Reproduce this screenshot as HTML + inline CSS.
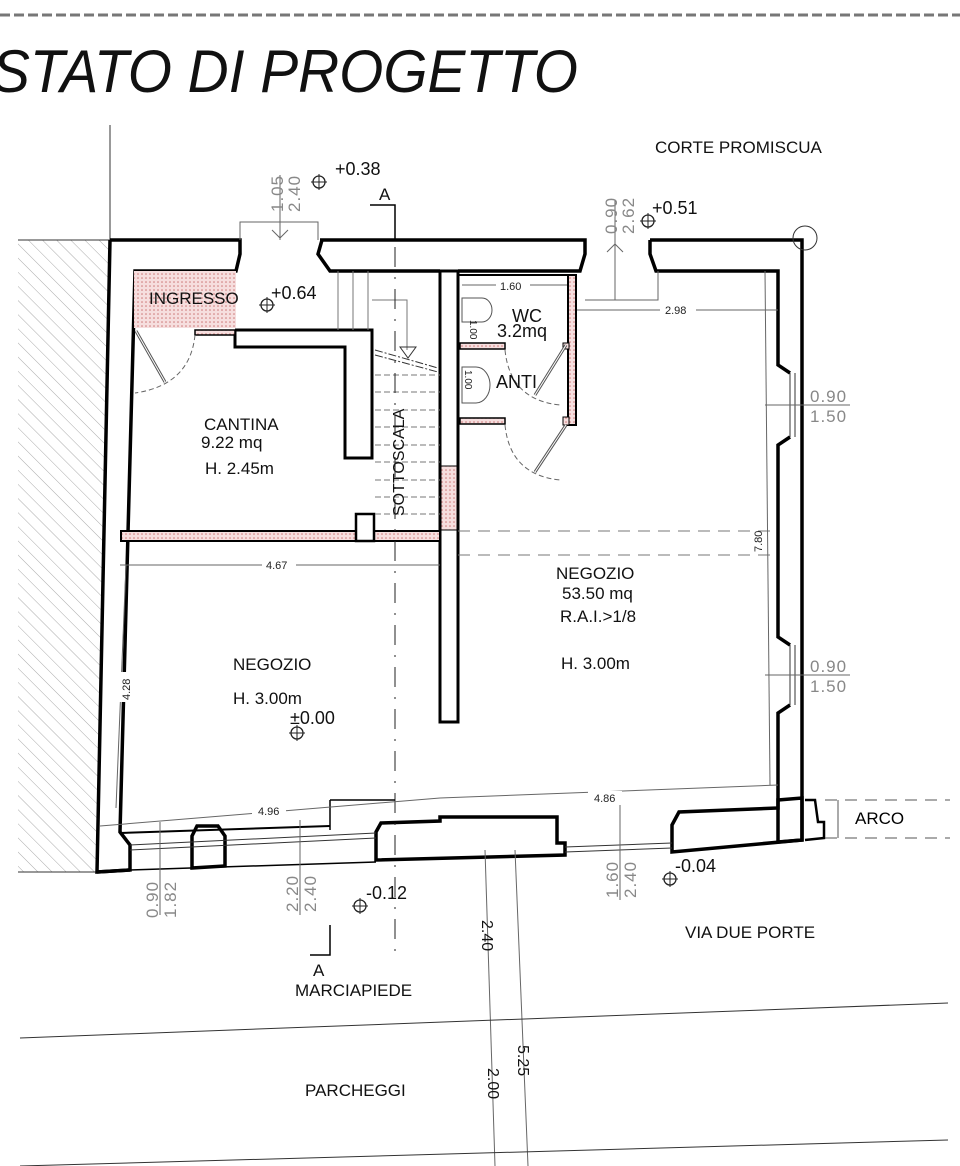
<!DOCTYPE html>
<html><head><meta charset="utf-8"><style>html,body{margin:0;padding:0;background:#fff;}svg{display:block}</style></head>
<body>
<svg width="960" height="1166" viewBox="0 0 960 1166" xmlns="http://www.w3.org/2000/svg" font-family="Liberation Sans, sans-serif">
<defs>
<pattern id="h" width="10" height="10" patternUnits="userSpaceOnUse" patternTransform="rotate(-45)"><line x1="0" y1="0" x2="0" y2="10" stroke="#aaa" stroke-width="1"/></pattern>
<pattern id="d" width="4" height="4" patternUnits="userSpaceOnUse"><rect width="4" height="4" fill="#f6dede"/><circle cx="2" cy="2" r="0.8" fill="#c77"/></pattern>
</defs>
<line x1="0" y1="15" x2="960" y2="15" stroke="#777" stroke-width="3" stroke-dasharray="10,4"/>
<text x="-8" y="92" font-size="60" font-style="italic" textLength="586" lengthAdjust="spacingAndGlyphs" fill="#111">STATO DI PROGETTO</text>

<polygon points="18,240 110,240 97,872 18,872" fill="url(#h)"/>
<line x1="18" y1="240" x2="110" y2="240" stroke="#333" stroke-width="1"/>
<line x1="110" y1="125" x2="110" y2="240" stroke="#333" stroke-width="1"/>
<line x1="18" y1="872" x2="97" y2="872" stroke="#333" stroke-width="1"/>

<g fill="none" stroke="#000" stroke-width="3.5" stroke-linejoin="miter">
<polyline points="110,240 240,240 240,254 236,271 135,271 120,832 130,845 130,870 97,872 110,240"/>
<polyline points="320,240 585,240 585,254 580,271 458,271"/>
<polyline points="322,240 318,254 330,271 440,271"/>
<polyline points="650,240 802,240 802,840 778,842"/>
<polyline points="650,240 650,254 656,271 778,271 778,365 790,373"/>
<polyline points="790,437 778,445 778,637 790,645"/>
<polyline points="790,705 778,713 778,842"/>
<polygon points="192,868 192,836 197,826 218,826 225,836 225,866"/>
<polygon points="376,860 376,832 381,823 440,821 440,817 557,817 557,843 565,843 565,855"/>
<polygon points="672,852 672,825 679,812 778,808 778,800 802,798 802,840"/>
<line x1="97" y1="872" x2="130" y2="870"/>
</g>
<g stroke="#333" stroke-width="1">
<line x1="790" y1="373" x2="790" y2="437"/><line x1="795" y1="373" x2="795" y2="437"/>
<line x1="790" y1="645" x2="790" y2="705"/><line x1="795" y1="645" x2="795" y2="705"/>
</g>
<line x1="130" y1="845" x2="376" y2="833" stroke="#333" stroke-width="1"/>
<line x1="130" y1="850" x2="376" y2="838" stroke="#333" stroke-width="1"/>
<line x1="565" y1="847" x2="672" y2="843" stroke="#333" stroke-width="1"/>
<line x1="565" y1="852" x2="672" y2="848" stroke="#333" stroke-width="1"/>
<line x1="130" y1="870" x2="376" y2="862" stroke="#000" stroke-width="1.5"/>
<line x1="120" y1="833" x2="330" y2="826" stroke="#000" stroke-width="2"/>
<polyline points="805,800 815,800 818,822 824,822 824,838 805,840" fill="none" stroke="#000" stroke-width="2.5"/>
<line x1="825" y1="800" x2="950" y2="800" stroke="#555" stroke-dasharray="12,8"/>
<line x1="825" y1="838" x2="950" y2="838" stroke="#555" stroke-dasharray="12,8"/>
<line x1="838" y1="800" x2="838" y2="838" stroke="#555"/>
<text x="855" y="824" font-size="17">ARCO</text>
<circle cx="805" cy="238" r="12" fill="none" stroke="#333"/>

<polygon points="440,271 458,271 458,722 440,722" fill="#fff" stroke="#000" stroke-width="3"/>
<rect x="441" y="466" width="16" height="64" fill="url(#d)" stroke="#000" stroke-width="1"/>
<rect x="121" y="531" width="319" height="10" fill="url(#d)" stroke="#000" stroke-width="2"/>
<rect x="356" y="514" width="18" height="27" fill="#fff" stroke="#000" stroke-width="2.5"/>
<polyline points="235,330 235,347 345,347 345,458 372,458 372,330 235,330" fill="#fff" stroke="#000" stroke-width="3"/>
<rect x="195" y="330" width="40" height="5" fill="url(#d)" stroke="#000" stroke-width="1.5"/>
<rect x="134" y="271" width="102" height="57" fill="url(#d)" stroke="none"/>
<g stroke="#777" stroke-width="1" fill="none">
<line x1="338" y1="271" x2="338" y2="330"/><line x1="353" y1="271" x2="353" y2="330"/><line x1="368" y1="271" x2="368" y2="330"/>
<polyline points="372,300 407,300 407,350"/>
<line x1="375" y1="375" x2="440" y2="375" stroke-dasharray="6,3"/><line x1="375" y1="392" x2="440" y2="392" stroke-dasharray="6,3"/>
<line x1="375" y1="410" x2="440" y2="410" stroke-dasharray="6,3"/><line x1="375" y1="427" x2="440" y2="427" stroke-dasharray="6,3"/>
<line x1="375" y1="445" x2="440" y2="445" stroke-dasharray="6,3"/><line x1="375" y1="462" x2="440" y2="462" stroke-dasharray="6,3"/>
<line x1="375" y1="480" x2="440" y2="480" stroke-dasharray="6,3"/><line x1="375" y1="497" x2="440" y2="497" stroke-dasharray="6,3"/>
<line x1="375" y1="514" x2="440" y2="514" stroke-dasharray="6,3"/>
<line x1="375" y1="350" x2="438" y2="368" stroke="#333" stroke-dasharray="8,2,2,2"/>
<line x1="375" y1="355" x2="438" y2="372" stroke="#333" stroke-dasharray="8,2,2,2"/>
</g>
<polygon points="400,347 416,347 408,358" fill="none" stroke="#333"/>
<text transform="translate(404,516) rotate(-90)" font-size="16" fill="#111">SOTTOSCALA</text>

<rect x="568" y="275" width="8" height="150" fill="url(#d)" stroke="#000" stroke-width="2"/>
<line x1="458" y1="275" x2="576" y2="275" stroke="#000" stroke-width="2"/>
<rect x="460" y="343" width="45" height="6" fill="url(#d)" stroke="#000" stroke-width="1.5"/>
<rect x="460" y="418" width="45" height="6" fill="url(#d)" stroke="#000" stroke-width="1.5"/>
<rect x="563" y="343" width="6" height="6" fill="url(#d)" stroke="#000" stroke-width="1"/>
<rect x="563" y="417" width="6" height="8" fill="url(#d)" stroke="#000" stroke-width="1"/>
<path d="M462,298 h20 a10,12 0 0 1 0,24 h-20 z" fill="none" stroke="#555"/>
<path d="M462,367 h14 a14,18 0 0 1 0,36 h-14 z" fill="none" stroke="#555"/>
<line x1="566" y1="345" x2="535" y2="395" stroke="#555" stroke-width="3"/><line x1="566" y1="345" x2="535" y2="395" stroke="#fff" stroke-width="1"/>
<line x1="566" y1="425" x2="535" y2="472" stroke="#555" stroke-width="3"/><line x1="566" y1="425" x2="535" y2="472" stroke="#fff" stroke-width="1"/>
<path d="M505,350 Q510,400 560,405" fill="none" stroke="#666" stroke-dasharray="5,3"/>
<path d="M505,425 Q510,475 560,480" fill="none" stroke="#666" stroke-dasharray="5,3"/>
<line x1="136" y1="331" x2="165" y2="382" stroke="#555" stroke-width="3"/><line x1="136" y1="331" x2="165" y2="382" stroke="#fff" stroke-width="1"/>
<path d="M195,335 Q190,385 135,393" fill="none" stroke="#666" stroke-dasharray="5,3"/>

<line x1="458" y1="531" x2="778" y2="531" stroke="#777" stroke-dasharray="12,8"/>
<line x1="458" y1="555" x2="778" y2="555" stroke="#777" stroke-dasharray="12,8"/>
<line x1="395" y1="205" x2="395" y2="955" stroke="#222" stroke-dasharray="20,10,2,10"/>
<polyline points="370,205 395,205 395,240" fill="none" stroke="#000" stroke-width="1.5"/>
<polyline points="310,955 330,955 330,925" fill="none" stroke="#000" stroke-width="1.5"/>
<line x1="330" y1="800" x2="395" y2="800" stroke="#000" stroke-width="1.5"/>
<line x1="330" y1="800" x2="330" y2="830" stroke="#000" stroke-width="1.5"/>

<g stroke="#666" stroke-width="1" fill="none">
<polyline points="240,240 240,222 318,222 318,240"/>
<line x1="280" y1="175" x2="280" y2="240"/><polyline points="272,230 280,238 288,230"/>
<line x1="615" y1="200" x2="615" y2="300"/><polyline points="607,252 615,244 623,252"/>
<polyline points="585,300 658,300 658,271"/>
<line x1="120" y1="565" x2="440" y2="565"/>
<line x1="126" y1="565" x2="116" y2="808"/>
<line x1="100" y1="826" x2="440" y2="798"/>
<line x1="440" y1="798" x2="778" y2="785"/>
<line x1="765" y1="271" x2="770" y2="785"/>
<line x1="577" y1="310" x2="778" y2="310"/>
<line x1="462" y1="285" x2="567" y2="285"/>
<line x1="765" y1="405" x2="850" y2="405"/>
<line x1="765" y1="675" x2="850" y2="675"/>
<line x1="160" y1="822" x2="160" y2="915"/>
<line x1="300" y1="820" x2="300" y2="915"/>
<line x1="485" y1="850" x2="495" y2="1166"/>
<line x1="515" y1="850" x2="528" y2="1166"/>
<line x1="620" y1="805" x2="620" y2="900"/>
</g>
<g fill="#fff">
<rect x="262" y="558" width="34" height="14"/><rect x="252" y="803" width="34" height="14"/><rect x="588" y="791" width="34" height="14"/>
<rect x="496" y="279" width="34" height="13"/><rect x="660" y="303" width="36" height="14"/><rect x="118" y="672" width="14" height="30"/>
</g>
<g font-size="11" fill="#222">
<text x="266" y="569">4.67</text><text x="258" y="815">4.96</text><text x="594" y="802">4.86</text>
<text x="500" y="290">1.60</text><text x="665" y="314">2.98</text>
<text transform="translate(762,552) rotate(-90)">7.80</text>
<text transform="translate(130,700) rotate(-90)">4.28</text>
<text transform="translate(470,320) rotate(90)" font-size="10">1.00</text>
<text transform="translate(465,370) rotate(90)" font-size="10">1.00</text>
</g>
<g font-size="17" fill="#888" letter-spacing="1">
<text transform="translate(283,212) rotate(-90)">1.05</text><text transform="translate(300,212) rotate(-90)">2.40</text>
<text transform="translate(617,234) rotate(-90)">0.90</text><text transform="translate(634,234) rotate(-90)">2.62</text>
<text x="810" y="402">0.90</text><text x="810" y="422">1.50</text>
<text x="810" y="672">0.90</text><text x="810" y="692">1.50</text>
<text transform="translate(158,918) rotate(-90)">0.90</text><text transform="translate(176,918) rotate(-90)">1.82</text>
<text transform="translate(298,912) rotate(-90)">2.20</text><text transform="translate(316,912) rotate(-90)">2.40</text>
<text transform="translate(618,898) rotate(-90)">1.60</text><text transform="translate(636,898) rotate(-90)">2.40</text>
</g>
<g font-size="16" fill="#111">
<text transform="translate(482,920) rotate(90)">2.40</text>
<text transform="translate(488,1068) rotate(90)">2.00</text>
<text transform="translate(518,1045) rotate(90)">5.25</text>
</g>
<line x1="20" y1="1038" x2="948" y2="1003" stroke="#333"/>
<line x1="20" y1="1166" x2="948" y2="1140" stroke="#333"/>

<g fill="none" stroke="#222" stroke-width="1.3">
<circle cx="319" cy="182" r="6"/><circle cx="648" cy="221" r="6"/><circle cx="267" cy="305" r="6"/>
<circle cx="297" cy="733" r="6"/><circle cx="360" cy="906" r="6"/><circle cx="670" cy="879" r="6"/>
</g>
<g stroke="#222" stroke-width="1">
<line x1="311" y1="182" x2="327" y2="182"/><line x1="319" y1="174" x2="319" y2="190"/>
<line x1="640" y1="221" x2="656" y2="221"/><line x1="648" y1="213" x2="648" y2="229"/>
<line x1="259" y1="305" x2="275" y2="305"/><line x1="267" y1="297" x2="267" y2="313"/>
<line x1="289" y1="733" x2="305" y2="733"/><line x1="297" y1="725" x2="297" y2="741"/>
<line x1="352" y1="906" x2="368" y2="906"/><line x1="360" y1="898" x2="360" y2="914"/>
<line x1="662" y1="879" x2="678" y2="879"/><line x1="670" y1="871" x2="670" y2="887"/>
</g>

<g fill="#111" font-size="17">
<text x="335" y="175" font-size="18">+0.38</text>
<text x="652" y="214" font-size="18">+0.51</text>
<text x="271" y="299" font-size="18">+0.64</text>
<text x="379" y="200">A</text>
<text x="313" y="976">A</text>
<text x="655" y="153">CORTE PROMISCUA</text>
<text x="149" y="304">INGRESSO</text>
<text x="204" y="430">CANTINA</text>
<text x="201" y="448">9.22 mq</text>
<text x="205" y="474">H. 2.45m</text>
<text x="512" y="322" font-size="18">WC</text>
<text x="497" y="337" font-size="18">3.2mq</text>
<text x="496" y="388" font-size="18">ANTI</text>
<text x="556" y="579">NEGOZIO</text>
<text x="562" y="599">53.50 mq</text>
<text x="560" y="622">R.A.I.&gt;1/8</text>
<text x="561" y="669">H. 3.00m</text>
<text x="233" y="670">NEGOZIO</text>
<text x="233" y="704">H. 3.00m</text>
<text x="290" y="724" font-size="18">±0.00</text>
<text x="366" y="899" font-size="18">-0.12</text>
<text x="675" y="872" font-size="18">-0.04</text>
<text x="685" y="938">VIA DUE PORTE</text>
<text x="295" y="996">MARCIAPIEDE</text>
<text x="305" y="1096">PARCHEGGI</text>
</g>
</svg>
</body></html>
